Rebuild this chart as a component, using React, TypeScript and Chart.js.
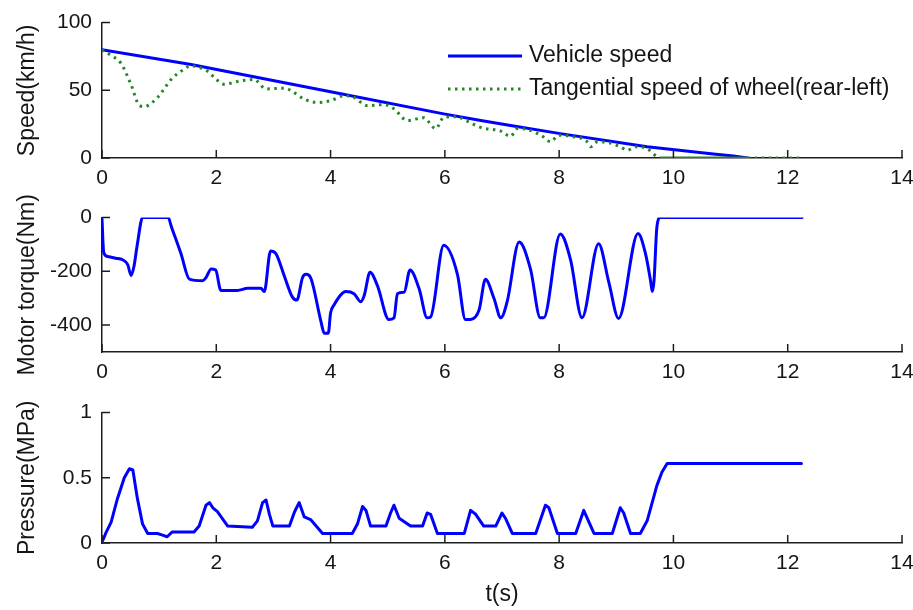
import React, { useEffect, useRef } from 'react';
import { Chart, registerables } from 'chart.js';

Chart.register(...registerables);

// ---------- data ----------
const TIME_TICKS = [0, 2, 4, 6, 8, 10, 12, 14];
const SPEED_TICKS = [0, 50, 100];
const TORQUE_TICKS = [-400, -200, 0];
const PRESSURE_TICKS = [0, 0.5, 1];

const VEHICLE_LABEL = 'Vehicle speed';
const WHEEL_LABEL = 'Tangential speed of wheel(rear-left)';

const VEHICLE_T = [0, 1.56, 4.0, 5.98, 6.63, 7.15, 8.02, 9.54, 10.7, 11.05, 11.3];
const VEHICLE_V = [80, 69, 49, 32.6, 27.7, 24, 18, 8.3, 2.9, 1.5, 0];

const WHEEL_T = [0, 0.15, 0.33, 0.51, 0.65, 0.74, 0.97, 1.21, 1.38, 1.56, 1.7, 1.85, 2.0, 2.14, 2.43, 2.66, 2.87, 3.19, 3.3, 3.54, 3.77, 4.0, 4.24, 4.41, 4.64, 4.94, 5.11, 5.34, 5.63, 5.84, 5.98, 6.2, 6.4, 6.63, 6.97, 7.15, 7.27, 7.45, 7.73, 7.85, 7.99, 8.2, 8.49, 8.55, 8.67, 8.9, 9.07, 9.19, 9.36, 9.54, 9.71, 9.8, 11.3, 12.2];
const WHEEL_V = [80, 76, 70, 54, 39, 38, 44.7, 58, 64, 68, 67, 64, 58, 54.5, 57, 58, 51, 51.6, 50, 43.5, 41, 42.3, 46, 44.7, 38.7, 39.4, 36.3, 27.7, 29.7, 21.7, 30, 30.5, 27, 22.5, 20, 16, 21.7, 21, 15.5, 12, 16.8, 16, 12, 8.3, 12, 11, 8.3, 5.8, 8.3, 7, 1, 0, 0, 0];

const TORQUE_T = [0, 0.03, 0.1, 0.24, 0.36, 0.45, 0.51, 0.56, 0.62, 0.71, 1.16, 1.21, 1.38, 1.53, 1.76, 1.82, 1.91, 1.99, 2.08, 2.37, 2.55, 2.78, 2.84, 2.95, 3.04, 3.19, 3.33, 3.41, 3.51, 3.57, 3.65, 3.83, 3.89, 3.96, 4.0, 4.06, 4.27, 4.41, 4.53, 4.59, 4.69, 4.82, 5.02, 5.11, 5.17, 5.29, 5.39, 5.55, 5.69, 5.75, 5.98, 6.22, 6.36, 6.45, 6.6, 6.71, 6.86, 6.98, 7.09, 7.3, 7.5, 7.67, 7.73, 8.02, 8.2, 8.4, 8.69, 8.87, 9.04, 9.38, 9.51, 9.6, 9.63, 9.66, 9.71, 9.77, 12.25];
const TORQUE_V = [-5, -130, -145, -151, -157, -175, -215, -181, -97, 0, 0, -31, -133, -229, -235, -223, -191, -195, -271, -271, -263, -263, -275, -124, -133, -217, -295, -307, -223, -211, -223, -385, -430, -430, -355, -325, -275, -283, -313, -289, -203, -253, -379, -373, -283, -277, -195, -265, -373, -370, -103, -211, -379, -379, -343, -229, -301, -373, -313, -91, -193, -373, -373, -61, -157, -373, -97, -241, -375, -59, -133, -235, -275, -235, -37, 0, 0];

const PRESSURE_T = [0, 0.03, 0.07, 0.16, 0.27, 0.39, 0.48, 0.54, 0.62, 0.71, 0.8, 0.97, 1.06, 1.14, 1.23, 1.61, 1.7, 1.82, 1.88, 1.94, 2.02, 2.2, 2.63, 2.72, 2.81, 2.87, 2.93, 2.99, 3.28, 3.37, 3.45, 3.54, 3.65, 3.86, 4.38, 4.47, 4.56, 4.62, 4.7, 4.97, 5.05, 5.11, 5.2, 5.4, 5.61, 5.69, 5.75, 5.87, 6.34, 6.45, 6.54, 6.68, 6.89, 7.0, 7.06, 7.18, 7.59, 7.76, 7.82, 7.97, 8.29, 8.43, 8.61, 8.93, 9.07, 9.13, 9.25, 9.42, 9.54, 9.71, 9.8, 9.89, 12.24];
const PRESSURE_V = [0.01, 0.036, 0.08, 0.16, 0.34, 0.5, 0.57, 0.56, 0.34, 0.145, 0.073, 0.073, 0.06, 0.048, 0.085, 0.085, 0.13, 0.29, 0.31, 0.27, 0.24, 0.13, 0.12, 0.17, 0.31, 0.33, 0.22, 0.13, 0.13, 0.24, 0.31, 0.2, 0.18, 0.073, 0.073, 0.145, 0.28, 0.25, 0.13, 0.13, 0.23, 0.29, 0.19, 0.13, 0.13, 0.23, 0.22, 0.073, 0.073, 0.25, 0.22, 0.13, 0.13, 0.23, 0.19, 0.073, 0.073, 0.29, 0.27, 0.073, 0.073, 0.25, 0.073, 0.073, 0.27, 0.23, 0.073, 0.073, 0.17, 0.44, 0.545, 0.61, 0.61];

// ---------- styling ----------
const FONT_FAMILY = "'Liberation Sans', Arial, Helvetica, sans-serif";
const AXIS_COLOR = '#1e1e1e';
const TEXT_COLOR = '#151515';
const BLUE = '#0000ff';
const GREEN = '#238523';
const DOTS = [2.5, 4.5];

const zip = (xs: number[], ys: number[]) => xs.map((x, i) => ({ x, y: ys[i] }));

const inwardTicks = {
  id: 'inwardTicks',
  afterDatasetsDraw(chart: any) {
    const { ctx, chartArea, scales } = chart;
    const xs = scales.x;
    const ys = scales.y;
    ctx.save();
    ctx.strokeStyle = AXIS_COLOR;
    ctx.lineWidth = 1.5;
    ctx.beginPath();
    xs.ticks.forEach((t: any) => {
      const p = xs.getPixelForValue(t.value);
      ctx.moveTo(p, chartArea.bottom);
      ctx.lineTo(p, chartArea.bottom - 8);
    });
    ys.ticks.forEach((t: any) => {
      const p = ys.getPixelForValue(t.value);
      ctx.moveTo(chartArea.left, p);
      ctx.lineTo(chartArea.left + 8, p);
    });
    ctx.stroke();
    ctx.restore();
  },
};

const legendPlugin = {
  id: 'manualLegend',
  afterDraw(chart: any) {
    const { ctx } = chart;
    const order = [VEHICLE_LABEL, WHEEL_LABEL];
    const rows = [56, 89];
    ctx.save();
    order.forEach((label, i) => {
      const ds = chart.data.datasets.find((d: any) => d.label === label);
      if (!ds) return;
      const y = rows[i];
      ctx.beginPath();
      ctx.strokeStyle = ds.borderColor;
      ctx.lineWidth = ds.borderWidth;
      ctx.setLineDash(ds.legendDash || []);
      ctx.moveTo(448, y);
      ctx.lineTo(522, y);
      ctx.stroke();
      ctx.setLineDash([]);
      ctx.fillStyle = TEXT_COLOR;
      ctx.font = `23px ${FONT_FAMILY}`;
      ctx.textBaseline = 'middle';
      ctx.textAlign = 'left';
      ctx.fillText(label, 529, y);
    });
    ctx.restore();
  },
};

type Spec = {
  width: number;
  height: number;
  top: number;
  padTop: number;
  xHeight: number;
  yTicks: number[];
  yMin: number;
  yMax: number;
  yTitle: string;
  xTitle?: string;
  datasets: any[];
  legend?: boolean;
};

function makeConfig(spec: Spec): any {
  return {
    type: 'line',
    data: { datasets: spec.datasets },
    options: {
      animation: false,
      responsive: false,
      events: [],
      layout: { padding: { top: spec.padTop, right: 11, bottom: 0, left: 0 } },
      plugins: { legend: { display: false }, tooltip: { enabled: false } },
      elements: { point: { radius: 0 }, line: { tension: 0 } },
      scales: {
        x: {
          type: 'linear',
          min: 0,
          max: 14,
          afterBuildTicks: (s: any) => {
            s.ticks = TIME_TICKS.map((v) => ({ value: v }));
          },
          afterFit: (s: any) => {
            s.height = spec.xHeight;
            s.paddingLeft = 0;
            s.paddingRight = 0;
          },
          ticks: {
            padding: 8,
            color: TEXT_COLOR,
            font: { family: FONT_FAMILY, size: 21 },
            maxRotation: 0,
            autoSkip: false,
            callback: (v: any) => String(v),
          },
          grid: { display: true, drawOnChartArea: false, drawTicks: false },
          border: { display: true, color: AXIS_COLOR, width: 1.5 },
          title: spec.xTitle
            ? {
                display: true,
                text: spec.xTitle,
                color: TEXT_COLOR,
                font: { family: FONT_FAMILY, size: 23 },
                padding: { top: 0, bottom: 2 },
              }
            : { display: false },
        },
        y: {
          type: 'linear',
          min: spec.yMin,
          max: spec.yMax,
          afterBuildTicks: (s: any) => {
            s.ticks = spec.yTicks.map((v) => ({ value: v }));
          },
          afterFit: (s: any) => {
            s.width = 102;
          },
          ticks: {
            padding: 10,
            color: TEXT_COLOR,
            font: { family: FONT_FAMILY, size: 21 },
            autoSkip: false,
            callback: (v: any) => String(v),
          },
          grid: { display: true, drawOnChartArea: false, drawTicks: false },
          border: { display: true, color: AXIS_COLOR, width: 1.5 },
          title: {
            display: true,
            text: spec.yTitle,
            color: TEXT_COLOR,
            font: { family: FONT_FAMILY, size: 23 },
            padding: { top: 14, bottom: 0 },
          },
        },
      },
    },
    plugins: spec.legend ? [inwardTicks, legendPlugin] : [inwardTicks],
  };
}

function SubPlot({ spec }: { spec: Spec }) {
  const ref = useRef<HTMLCanvasElement | null>(null);
  useEffect(() => {
    if (!ref.current) return;
    const chart = new Chart(ref.current, makeConfig(spec));
    return () => chart.destroy();
  }, []);
  return (
    <canvas
      ref={ref}
      width={spec.width}
      height={spec.height}
      style={{ position: 'absolute', left: 0, top: spec.top, width: spec.width, height: spec.height }}
    />
  );
}

const blueLine = (label: string, t: number[], v: number[], smooth = false) => ({
  label,
  data: zip(t, v),
  borderColor: BLUE,
  borderWidth: 3,
  borderJoinStyle: 'round',
  borderCapStyle: 'round',
  cubicInterpolationMode: smooth ? 'monotone' : 'default',
  fill: false,
});

const speedSpec: Spec = {
  width: 913,
  height: 195,
  top: 0,
  padTop: 21,
  xHeight: 37,
  yTicks: SPEED_TICKS,
  yMin: 0,
  yMax: 100,
  yTitle: 'Speed(km/h)',
  legend: true,
  datasets: [
    {
      label: WHEEL_LABEL,
      data: zip(WHEEL_T, WHEEL_V),
      borderColor: GREEN,
      borderWidth: 3,
      borderDash: DOTS,
      legendDash: DOTS,
      cubicInterpolationMode: 'monotone',
      segment: {
        borderDash: (ctx: any) =>
          ctx.p0.parsed.x >= 9.75 && ctx.p1.parsed.x <= 11.35 ? [] : DOTS,
      },
      fill: false,
      order: 0,
    },
    { ...blueLine(VEHICLE_LABEL, VEHICLE_T, VEHICLE_V), order: 1 },
  ],
};

const torqueSpec: Spec = {
  width: 913,
  height: 195,
  top: 195,
  padTop: 18,
  xHeight: 38,
  yTicks: TORQUE_TICKS,
  yMin: -500,
  yMax: 0,
  yTitle: 'Motor torque(Nm)',
  datasets: [blueLine('Motor torque', TORQUE_T, TORQUE_V, true)],
};

const pressureSpec: Spec = {
  width: 913,
  height: 220,
  top: 390,
  padTop: 16,
  xHeight: 67,
  yTicks: PRESSURE_TICKS,
  yMin: 0,
  yMax: 1,
  yTitle: 'Pressure(MPa)',
  xTitle: 't(s)',
  datasets: [blueLine('Pressure', PRESSURE_T, PRESSURE_V)],
};

export default function App() {
  return (
    <div
      style={{
        position: 'fixed',
        left: 0,
        top: 0,
        width: 913,
        height: 610,
        background: '#ffffff',
        overflow: 'hidden',
      }}
    >
      <SubPlot spec={speedSpec} />
      <SubPlot spec={torqueSpec} />
      <SubPlot spec={pressureSpec} />
    </div>
  );
}
